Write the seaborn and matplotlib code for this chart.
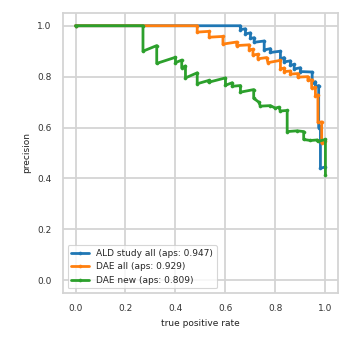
import pandas as pd
import matplotlib
matplotlib.use("Agg")
import matplotlib.pyplot as plt
import seaborn as sns

# precision-recall curves (recall, precision vertices)
ald_recall = [0, 0.66, 0.66, 0.68, 0.68, 0.70, 0.70, 0.715, 0.715, 0.755, 0.755, 0.78, 0.78,
              0.82, 0.82, 0.835, 0.835, 0.86, 0.86, 0.875, 0.875, 0.90, 0.90, 0.947, 0.947,
              0.96, 0.96, 0.973, 0.973, 0.98, 0.98, 1.0]
ald_precision = [1.0, 1.0, 0.985, 0.988, 0.968, 0.972, 0.95, 0.953, 0.935, 0.94, 0.905, 0.91, 0.895,
                 0.90, 0.87, 0.875, 0.858, 0.862, 0.845, 0.848, 0.83, 0.835, 0.82, 0.818, 0.775,
                 0.78, 0.76, 0.765, 0.60, 0.605, 0.44, 0.445]

dae_all_recall = [0, 0.487, 0.487, 0.535, 0.535, 0.59, 0.59, 0.645, 0.645, 0.695, 0.695, 0.71, 0.71,
                  0.73, 0.73, 0.765, 0.77, 0.82, 0.82, 0.835, 0.835, 0.86, 0.86, 0.89, 0.89, 0.93,
                  0.93, 0.945, 0.945, 0.96, 0.96, 0.97, 0.97, 0.985, 0.985, 1.0]
dae_all_precision = [1.0, 1.0, 0.975, 0.978, 0.955, 0.958, 0.928, 0.936, 0.922, 0.925, 0.905, 0.908, 0.885,
                     0.888, 0.87, 0.875, 0.855, 0.864, 0.83, 0.834, 0.82, 0.822, 0.81, 0.812, 0.798, 0.80,
                     0.785, 0.788, 0.755, 0.758, 0.725, 0.728, 0.62, 0.622, 0.54, 0.545]

dae_new_recall = [0, 0.27, 0.27, 0.325, 0.325, 0.40, 0.40, 0.425, 0.425, 0.44, 0.44, 0.487, 0.487,
                  0.533, 0.533, 0.60, 0.60, 0.627, 0.627, 0.66, 0.66, 0.713, 0.713, 0.733, 0.74,
                  0.78, 0.80, 0.813, 0.82, 0.847, 0.847, 0.887, 0.913, 0.913, 0.94, 0.967, 0.97,
                  1.0, 1.0]
dae_new_precision = [1.0, 1.0, 0.90, 0.922, 0.852, 0.876, 0.855, 0.865, 0.835, 0.842, 0.795, 0.815, 0.772,
                     0.785, 0.778, 0.795, 0.766, 0.776, 0.762, 0.765, 0.739, 0.749, 0.715, 0.70, 0.684,
                     0.686, 0.676, 0.68, 0.665, 0.667, 0.584, 0.587, 0.584, 0.553, 0.549, 0.551, 0.545,
                     0.553, 0.414]

labels = ["ALD study all (aps: 0.947)", "DAE all (aps: 0.929)", "DAE new (aps: 0.809)"]

frames = []
for lab, r, p in zip(labels, [ald_recall, dae_all_recall, dae_new_recall],
                     [ald_precision, dae_all_precision, dae_new_precision]):
    frames.append(pd.DataFrame({"recall": r, "precision": p, "model": lab}))
df = pd.concat(frames, ignore_index=True)

sns.set_theme(style="whitegrid", context="paper",
              rc={"grid.color": "#d4d4d4", "grid.linewidth": 1.3,
                  "axes.edgecolor": "#d4d4d4", "axes.linewidth": 1.3})
fig = plt.figure(figsize=(3.52, 3.52), dpi=100)
ax = fig.add_axes([0.179, 0.168, 0.781, 0.795])

sns.lineplot(data=df, x="recall", y="precision", hue="model", sort=False, estimator=None,
             marker="o", markersize=2.2, markeredgewidth=0.4, linewidth=2.0,
             palette=["#1f77b4", "#ff7f0e", "#2ca02c"], ax=ax)

# markers in the same colour as the line, no white rim
for line in ax.lines:
    line.set_markeredgecolor(line.get_color())

ax.set_xlim(-0.05, 1.05)
ax.set_ylim(-0.05, 1.05)
ax.set_xticks([0.0, 0.2, 0.4, 0.6, 0.8, 1.0])
ax.set_yticks([0.0, 0.2, 0.4, 0.6, 0.8, 1.0])
ax.tick_params(labelsize=6.5, colors="#333333")
ax.set_xlabel("true positive rate", fontsize=6.5, color="#222222")
ax.set_ylabel("precision", fontsize=6.5, color="#222222")
leg = ax.legend(loc="lower left", fontsize=6.5, title=None)
for h in leg.legend_handles:
    h.set_markeredgecolor(h.get_color())

fig.savefig("out.png", dpi=100)
